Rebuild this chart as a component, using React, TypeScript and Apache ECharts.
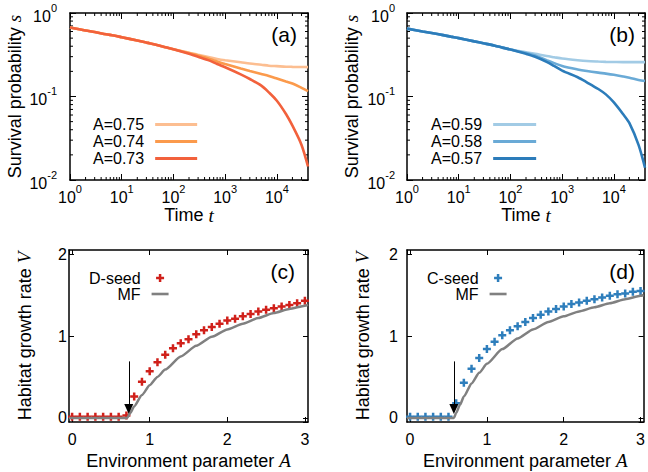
import React, { useEffect, useRef } from 'react';
import * as echarts from 'echarts';

const SANS = '"Liberation Sans", Arial, Helvetica, sans-serif';
const SERIF = '"Liberation Serif", "Times New Roman", serif';

// ---------- Panels (a),(b): survival probability vs time ----------
const timeT = [1, 2, 3, 5, 7, 10, 20, 30, 50, 70, 100, 200, 300, 500, 700, 1000, 2000, 3000, 5000, 7000, 10000, 15000, 20000, 30000, 40000];

const legendA = ['A=0.75', 'A=0.74', 'A=0.73'];
const survA075 = [0.671, 0.617, 0.592, 0.556, 0.537, 0.513, 0.468, 0.442, 0.412, 0.389, 0.367, 0.335, 0.316, 0.295, 0.282, 0.272, 0.257, 0.248, 0.24, 0.234, 0.231, 0.2275, 0.2265, 0.2255, 0.225];
const survA074 = [0.671, 0.617, 0.592, 0.556, 0.537, 0.513, 0.468, 0.442, 0.412, 0.389, 0.367, 0.331, 0.309, 0.282, 0.263, 0.245, 0.216, 0.202, 0.186, 0.176, 0.164, 0.151, 0.143, 0.127, 0.116];
const survA073 = [0.671, 0.617, 0.592, 0.556, 0.537, 0.513, 0.468, 0.442, 0.412, 0.389, 0.367, 0.324, 0.299, 0.269, 0.245, 0.224, 0.184, 0.162, 0.135, 0.112, 0.089, 0.0617, 0.0447, 0.0263, 0.0145];

const legendB = ['A=0.59', 'A=0.58', 'A=0.57'];
const survA059 = [0.65, 0.6, 0.575, 0.543, 0.521, 0.5, 0.457, 0.434, 0.406, 0.385, 0.365, 0.339, 0.324, 0.305, 0.295, 0.285, 0.272, 0.266, 0.262, 0.26, 0.259, 0.258, 0.258, 0.258, 0.258];
const survA058 = [0.65, 0.6, 0.575, 0.543, 0.521, 0.5, 0.457, 0.434, 0.406, 0.385, 0.365, 0.331, 0.309, 0.272, 0.251, 0.232, 0.211, 0.202, 0.193, 0.188, 0.182, 0.174, 0.168, 0.158, 0.153];
const survA057 = [0.65, 0.6, 0.575, 0.543, 0.521, 0.5, 0.457, 0.434, 0.406, 0.385, 0.365, 0.324, 0.299, 0.26, 0.232, 0.204, 0.17, 0.148, 0.123, 0.106, 0.085, 0.0617, 0.0479, 0.0263, 0.014];

const colorsA = ['#fcbe91', '#fb9a4c', '#f2613c'];
const colorsB = ['#a2cbe5', '#6aaad6', '#2c7cba'];

// ---------- Panels (c),(d): habitat growth rate vs A ----------
const envA = [0, 0.1, 0.2, 0.3, 0.4, 0.5, 0.6, 0.7, 0.8, 0.9, 1.0, 1.1, 1.2, 1.3, 1.4, 1.5, 1.6, 1.7, 1.8, 1.9, 2.0, 2.1, 2.2, 2.3, 2.4, 2.5, 2.6, 2.7, 2.8, 2.9, 3.0];
const dSeedV = [0.015, 0.015, 0.015, 0.015, 0.015, 0.015, 0.015, 0.03, 0.26, 0.44, 0.57, 0.68, 0.77, 0.85, 0.91, 0.96, 1.02, 1.07, 1.11, 1.15, 1.19, 1.21, 1.24, 1.27, 1.3, 1.32, 1.34, 1.36, 1.38, 1.4, 1.43];
const cSeedV = [0.015, 0.015, 0.015, 0.015, 0.015, 0.015, 0.18, 0.43, 0.6, 0.73, 0.84, 0.93, 1.01, 1.07, 1.12, 1.17, 1.22, 1.26, 1.3, 1.33, 1.36, 1.39, 1.41, 1.43, 1.45, 1.47, 1.49, 1.51, 1.52, 1.54, 1.55];

const mfAc = [-0.04, 0.71, 0.75, 0.8, 0.9, 1.0, 1.1, 1.2, 1.4, 1.6, 1.8, 2.0, 2.2, 2.4, 2.6, 2.8, 3.0, 3.04];
const mfVc = [0, 0, 0.06, 0.14, 0.28, 0.4, 0.5, 0.59, 0.75, 0.88, 0.99, 1.08, 1.15, 1.22, 1.28, 1.33, 1.37, 1.38];
const mfAd = [-0.04, 0.57, 0.6, 0.65, 0.7, 0.8, 0.9, 1.0, 1.2, 1.4, 1.6, 1.8, 2.0, 2.2, 2.4, 2.6, 2.8, 3.0, 3.04];
const mfVd = [0, 0, 0.06, 0.16, 0.26, 0.42, 0.55, 0.66, 0.84, 0.97, 1.08, 1.17, 1.24, 1.3, 1.35, 1.4, 1.45, 1.49, 1.5];

const criticalC = 0.73;
const criticalD = 0.57;
const arrowTop = 0.69;
const arrowEnd = 0.11;

const panelLabels = ['(a)', '(b)', '(c)', '(d)'];

// minor tick positions for the log axes
const mantissas = [2, 3, 4, 5, 6, 7, 8, 9];
const xMinor: number[] = [];
[1, 10, 100, 1000, 10000].forEach((d) => mantissas.forEach((m) => { if (m * d < 40000) xMinor.push(m * d); }));
const yMinor: number[] = [];
[0.01, 0.1].forEach((d) => mantissas.forEach((m) => yMinor.push(m * d)));

const grids = [
  { left: 70, top: 13, width: 238, height: 167 },
  { left: 407, top: 13, width: 238, height: 167 },
  { left: 69, top: 250, width: 239, height: 172 },
  { left: 407, top: 250, width: 238, height: 172 },
];

const LOGX: [number, number] = [1, 40000];
const LOGY: [number, number] = [0.01, 1];
const LINX: [number, number] = [-0.04, 3.04];
const LINY: [number, number] = [-0.05, 2.05];

const powLabel = (v: number) => {
  const e = Math.log10(v);
  const r = Math.round(e);
  if (Math.abs(e - r) > 1e-6) return '';
  return `{b|10}{s|${r}}`;
};
const intLabel = (v: number) => (Math.abs(v - Math.round(v)) < 1e-9 ? String(Math.round(v)) : '');

const powRich = {
  b: { fontSize: 16, fontFamily: SANS, color: '#000', lineHeight: 22, verticalAlign: 'bottom' },
  s: { fontSize: 11, fontFamily: SANS, color: '#000', lineHeight: 11, verticalAlign: 'top' },
};

const nameStyle = {
  fontSize: 18,
  fontFamily: SANS,
  color: '#000',
  rich: { i: { fontSize: 19, fontFamily: SERIF, fontStyle: 'italic', color: '#000' } },
};

const axisLine = { show: true, onZero: false, lineStyle: { color: '#000', width: 1.5 } };

function makeX(g: number, log: boolean, main: boolean, name: string, nameGap: number, labelMargin: number) {
  const r = log ? LOGX : LINX;
  const ax: any = {
    type: log ? 'log' : 'value',
    gridIndex: g,
    position: main ? 'bottom' : 'top',
    min: r[0],
    max: r[1],
    axisLine,
    axisTick: { show: true, inside: true, length: log ? 6 : 5, lineStyle: { color: '#000', width: 1 } },
    splitLine: { show: false },
    axisLabel: { show: false },
  };
  if (log) ax.logBase = 10;
  else { ax.minInterval = 1; ax.maxInterval = 1; }
  if (main) {
    ax.axisLabel = log
      ? { show: true, formatter: powLabel, rich: powRich, margin: labelMargin, showMinLabel: true, showMaxLabel: false, hideOverlap: false }
      : { show: true, formatter: intLabel, fontSize: 16, fontFamily: SANS, color: '#000', margin: labelMargin, showMinLabel: false, showMaxLabel: false };
    ax.name = name;
    ax.nameLocation = 'middle';
    ax.nameGap = nameGap;
    ax.nameTextStyle = nameStyle;
  }
  return ax;
}

function makeY(g: number, log: boolean, main: boolean, name: string, nameGap: number, labelMargin: number) {
  const r = log ? LOGY : LINY;
  const ax: any = {
    type: log ? 'log' : 'value',
    gridIndex: g,
    position: main ? 'left' : 'right',
    min: r[0],
    max: r[1],
    axisLine,
    axisTick: { show: true, inside: true, length: log ? 6 : 5, lineStyle: { color: '#000', width: 1 } },
    splitLine: { show: false },
    axisLabel: { show: false },
  };
  if (log) ax.logBase = 10;
  else { ax.minInterval = 1; ax.maxInterval = 1; }
  if (main) {
    ax.axisLabel = log
      ? { show: true, formatter: powLabel, rich: powRich, margin: labelMargin, showMinLabel: true, showMaxLabel: true }
      : { show: true, formatter: intLabel, fontSize: 16, fontFamily: SANS, color: '#000', margin: labelMargin, showMinLabel: false, showMaxLabel: false };
    ax.name = name;
    ax.nameLocation = 'middle';
    ax.nameGap = nameGap;
    ax.nameTextStyle = nameStyle;
  }
  return ax;
}

function minorTicks(g: number) {
  const data = [
    ...xMinor.map((v) => [v, LOGY[0], 0]),
    ...yMinor.map((v) => [LOGX[0], v, 1]),
  ];
  return {
    type: 'custom',
    xAxisIndex: 2 * g,
    yAxisIndex: 2 * g,
    silent: true,
    clip: false,
    data,
    encode: { x: 0, y: 1 },
    renderItem: (_p: any, api: any) => {
      const kind = api.value(2);
      const st = { stroke: '#000', lineWidth: 1 };
      if (kind === 0) {
        const v = api.value(0);
        const b = api.coord([v, LOGY[0]]);
        const t = api.coord([v, LOGY[1]]);
        return {
          type: 'group',
          children: [
            { type: 'line', shape: { x1: b[0], y1: b[1], x2: b[0], y2: b[1] - 3 }, style: st },
            { type: 'line', shape: { x1: t[0], y1: t[1], x2: t[0], y2: t[1] + 3 }, style: st },
          ],
        };
      }
      const v = api.value(1);
      const l = api.coord([LOGX[0], v]);
      const r = api.coord([LOGX[1], v]);
      return {
        type: 'group',
        children: [
          { type: 'line', shape: { x1: l[0], y1: l[1], x2: l[0] + 3, y2: l[1] }, style: st },
          { type: 'line', shape: { x1: r[0], y1: r[1], x2: r[0] - 3, y2: r[1] }, style: st },
        ],
      };
    },
  };
}

function survSeries(g: number, name: string, vals: number[], color: string) {
  return {
    type: 'line',
    name,
    xAxisIndex: 2 * g,
    yAxisIndex: 2 * g,
    data: timeT.map((t, i) => [t, vals[i]]),
    symbol: 'none',
    smooth: 0.3,
    lineStyle: { color, width: 2.6 },
    itemStyle: { color },
  };
}

const PLUS = 'path://M-1.25,-4 H1.25 V-1.25 H4 V1.25 H1.25 V4 H-1.25 V1.25 H-4 V-1.25 H-1.25 Z';
const BAR = 'path://M0,0 H17 V2.6 H0 Z';

function mfSeries(g: number, xs: number[], ys: number[], crit: number) {
  return {
    type: 'line',
    name: 'MF',
    xAxisIndex: 2 * g,
    yAxisIndex: 2 * g,
    data: xs.map((x, i) => [x, ys[i]]),
    symbol: 'none',
    smooth: 0.2,
    smoothMonotone: 'x',
    lineStyle: { color: '#808080', width: 2.5 },
    itemStyle: { color: '#808080' },
    markLine: {
      silent: true,
      symbol: ['none', 'triangle'],
      symbolSize: [9, 10],
      lineStyle: { color: '#000', width: 1, type: 'solid' },
      itemStyle: { color: '#000' },
      label: { show: false },
      emphasis: { disabled: true },
      data: [[{ coord: [crit, arrowTop] }, { coord: [crit, arrowEnd] }]],
    },
  };
}

function seedSeries(g: number, name: string, vals: number[], color: string) {
  return {
    type: 'scatter',
    name,
    xAxisIndex: 2 * g,
    yAxisIndex: 2 * g,
    data: envA.map((a, i) => [a, vals[i]]),
    symbol: PLUS,
    symbolSize: 8,
    itemStyle: { color, opacity: 1 },
  };
}

function legend(data: any[], left: number, top: number, itemWidth: number, itemHeight: number, lh: number) {
  return {
    data,
    orient: 'vertical',
    align: 'right',
    left,
    top,
    padding: 0,
    itemGap: 0,
    itemWidth,
    itemHeight,
    selectedMode: false,
    textStyle: { fontSize: 16, fontFamily: SANS, color: '#000', lineHeight: lh, padding: [0, 6, 0, 0] },
  };
}

function buildOption() {
  const xAxis = [
    makeX(0, true, true, 'Time {i|t}', 22, 3), makeX(0, true, false, '', 0, 0),
    makeX(1, true, true, 'Time {i|t}', 22, 3), makeX(1, true, false, '', 0, 0),
    makeX(2, false, true, 'Environment parameter {i|A}', 29, 9), makeX(2, false, false, '', 0, 0),
    makeX(3, false, true, 'Environment parameter {i|A}', 29, 9), makeX(3, false, false, '', 0, 0),
  ];
  const yAxis = [
    makeY(0, true, true, 'Survival probability {i|s}', 46, 13), makeY(0, true, false, '', 0, 0),
    makeY(1, true, true, 'Survival probability {i|s}', 46, 12), makeY(1, true, false, '', 0, 0),
    makeY(2, false, true, 'Habitat growth rate {i|V}', 35, 2), makeY(2, false, false, '', 0, 0),
    makeY(3, false, true, 'Habitat growth rate {i|V}', 35, 9), makeY(3, false, false, '', 0, 0),
  ];
  const series = [
    minorTicks(0),
    minorTicks(1),
    survSeries(0, legendA[0], survA075, colorsA[0]),
    survSeries(0, legendA[1], survA074, colorsA[1]),
    survSeries(0, legendA[2], survA073, colorsA[2]),
    survSeries(1, legendB[0], survA059, colorsB[0]),
    survSeries(1, legendB[1], survA058, colorsB[1]),
    survSeries(1, legendB[2], survA057, colorsB[2]),
    mfSeries(2, mfAc, mfVc, criticalC),
    seedSeries(2, 'D-seed', dSeedV, '#d0201a'),
    mfSeries(3, mfAd, mfVd, criticalD),
    seedSeries(3, 'C-seed', cSeedV, '#2e7ebc'),
  ];
  const labelPos = [
    [297, 24], [635, 24], [295, 261], [635, 261],
  ];
  const graphic = panelLabels.map((t, i) => ({
    type: 'text',
    x: labelPos[i][0],
    y: labelPos[i][1],
    silent: true,
    style: { text: t, fontSize: 21, fontFamily: SANS, fill: '#000', align: 'right', verticalAlign: 'top' },
  }));
  const rectItems = (names: string[]) => names.map((n) => ({ name: n, icon: 'rect' }));
  return {
    animation: false,
    backgroundColor: '#fff',
    grid: grids,
    xAxis,
    yAxis,
    series,
    graphic,
    legend: [
      legend(rectItems(legendA), 93, 116, 42, 3, 17),
      legend(rectItems(legendB), 431, 116, 43, 3, 17),
      legend(['D-seed', { name: 'MF', icon: BAR }], 89, 270, 17, 8, 15.5),
      legend(['C-seed', { name: 'MF', icon: BAR }], 427, 270, 17, 8, 15.5),
    ],
  };
}

export default function App() {
  const ref = useRef<HTMLDivElement>(null);
  useEffect(() => {
    if (!ref.current) return;
    const chart = echarts.init(ref.current, null, { renderer: 'svg' });
    chart.setOption(buildOption() as any);
    return () => chart.dispose();
  }, []);
  return <div ref={ref} style={{ position: 'fixed', left: 0, top: 0, width: 648, height: 472, background: '#fff' }} />;
}
